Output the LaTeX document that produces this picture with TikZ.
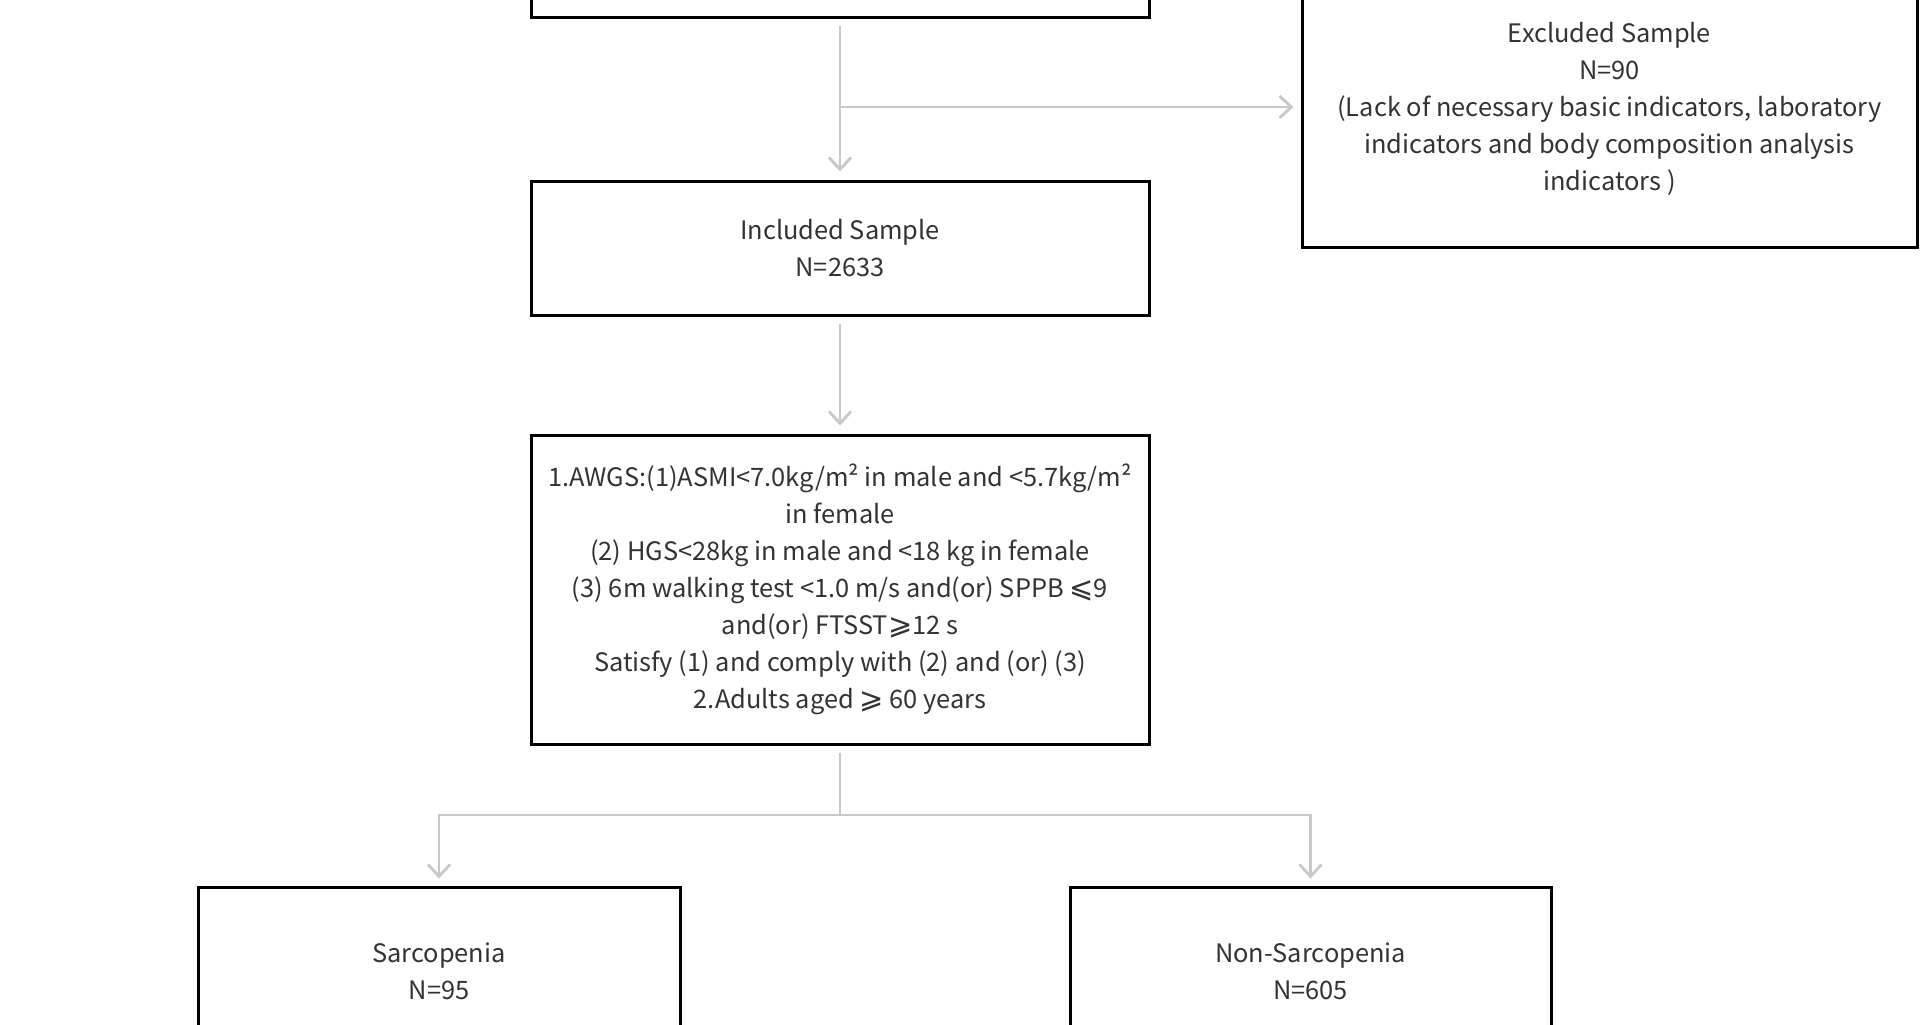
\documentclass[tikz,border=0pt]{standalone}
\usepackage{fontspec}
\setmainfont{Noto Sans CJK SC}
\newfontfamily\relfont{DejaVu Sans}
\usetikzlibrary{positioning, arrows.meta}
\definecolor{linegray}{HTML}{C8C8C8}
\definecolor{textgray}{HTML}{333333}
\newcommand{\leqs}{{\relfont\fontsize{14.5}{18.5}\selectfont ⩽}}
\newcommand{\geqs}{{\relfont\fontsize{14.5}{18.5}\selectfont ⩾}}

\begin{document}
\begin{tikzpicture}[x=0.5pt, y=-0.5pt,
        box/.style={draw=black, line width=1.5pt, rectangle, align=center, text=textgray, inner sep=0pt, font=\fontsize{12.7}{18.5}\selectfont},
        flow/.style={draw=linegray, line width=1.4pt, -{Straight Barb[length=6pt, width=11pt]}}]
        \useasboundingbox (0,0) rectangle (1920,1024);
        \fill[white] (0,0) rectangle (1920,1024);

        \node[box, minimum width=309pt, minimum height=60pt] (total) at (840,-42.5) {};
        \node[box, minimum width=307.5pt, minimum height=138pt] (excluded) at (1609.5,109) {Excluded Sample\\N=90\\(Lack of necessary basic indicators, laboratory\\indicators and body composition analysis\\indicators )};
        \node[box, minimum width=309pt, minimum height=67pt] (included) at (840,248) {Included Sample\\N=2633};
        \node[box, minimum width=309pt, minimum height=154.5pt] (criteria) at (840,589.5) {1.AWGS:(1)ASMI<7.0kg/m² in male and <5.7kg/m²\\in female\\(2) HGS<28kg in male and <18 kg in female\\(3) 6m walking test <1.0 m/s and(or) SPPB \leqs9\\and(or) FTSST\geqs12 s\\Satisfy (1) and comply with (2) and (or) (3)\\2.Adults aged \geqs\ 60 years};
        \node[box, minimum width=241pt, minimum height=84pt] (sarcopenia) at (439,971) {Sarcopenia\\N=95};
        \node[box, minimum width=240.5pt, minimum height=84pt] (nonsarcopenia) at (1310.5,971) {Non-Sarcopenia\\N=605};

        \coordinate (branch) at (840,107);
        \coordinate (split) at (840,815);

        \draw[flow, shorten <=3.5pt, shorten >=4pt] (total) -- (included);
        \draw[flow, shorten >=3.5pt] (branch) -- (branch -| excluded.west);
        \draw[flow, shorten <=3.5pt, shorten >=4pt] (included) -- (criteria);
        \draw[flow, shorten <=3.5pt, shorten >=3.5pt] (criteria) -- (split) -| (sarcopenia);
        \draw[flow, shorten <=3.5pt, shorten >=3.5pt] (criteria) -- (split) -| (nonsarcopenia);
    \end{tikzpicture}
\end{document}
